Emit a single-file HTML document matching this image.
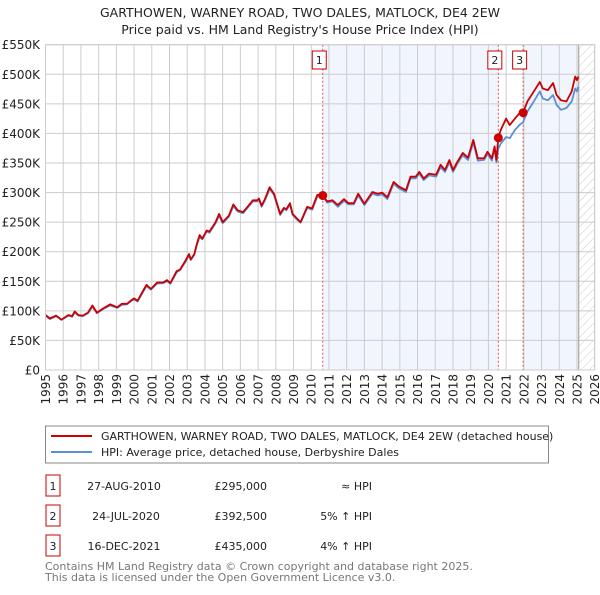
<!DOCTYPE html>
<html><head><meta charset="utf-8"><style>
body{margin:0;background:#fff;font-family:"Liberation Sans","DejaVu Sans",sans-serif;}
svg text{font-family:"DejaVu Sans","Liberation Sans",sans-serif;}
</style></head><body>
<svg id="c" width="600" height="590" xmlns="http://www.w3.org/2000/svg">
<defs><pattern id="hatch" width="6" height="6" patternUnits="userSpaceOnUse" patternTransform="rotate(45)"><line x1="0" y1="0" x2="0" y2="6" stroke="#ccc" stroke-width="1"/></pattern></defs>
<text x="300" y="17" text-anchor="middle" font-size="12.5" fill="#222">GARTHOWEN, WARNEY ROAD, TWO DALES, MATLOCK, DE4 2EW</text>
<text x="300" y="34" text-anchor="middle" font-size="12.5" fill="#222">Price paid vs. HM Land Registry's House Price Index (HPI)</text>
<g id="plot"></g>
<rect x="45.5" y="426" width="503" height="37" fill="#fff" stroke="#888"/>
<line x1="51" y1="436" x2="92" y2="436" stroke="#cc0000" stroke-width="2"/>
<text x="101" y="440" font-size="11" fill="#222">GARTHOWEN, WARNEY ROAD, TWO DALES, MATLOCK, DE4 2EW (detached house)</text>
<line x1="51" y1="452" x2="92" y2="452" stroke="#5b8fd6" stroke-width="2"/>
<text x="101" y="456" font-size="11" fill="#222">HPI: Average price, detached house, Derbyshire Dales</text>
<g font-size="11" fill="#222">
<rect x="46" y="475" width="14" height="21" fill="#fff" stroke="#cc0000"/><text x="53" y="490" text-anchor="middle">1</text>
<text x="124" y="490" text-anchor="middle">27-AUG-2010</text>
<text x="267" y="490" text-anchor="end">£295,000</text>
<text x="372" y="490" text-anchor="end">≈ HPI</text>
<rect x="46" y="505" width="14" height="21" fill="#fff" stroke="#cc0000"/><text x="53" y="520" text-anchor="middle">2</text>
<text x="126" y="520" text-anchor="middle">24-JUL-2020</text>
<text x="267" y="520" text-anchor="end">£392,500</text>
<text x="372" y="520" text-anchor="end">5% ↑ HPI</text>
<rect x="46" y="535" width="14" height="21" fill="#fff" stroke="#cc0000"/><text x="53" y="550" text-anchor="middle">3</text>
<text x="124" y="550" text-anchor="middle">16-DEC-2021</text>
<text x="267" y="550" text-anchor="end">£435,000</text>
<text x="372" y="550" text-anchor="end">4% ↑ HPI</text>
</g>
<text x="45" y="570" font-size="11" fill="#777">Contains HM Land Registry data © Crown copyright and database right 2025.</text>
<text x="45" y="581" font-size="11" fill="#777">This data is licensed under the Open Government Licence v3.0.</text>
</svg>
<script>
const propYears=[1995.0,1995.25,1995.6,1995.9,1996.3,1996.5,1996.65,1996.85,1997.1,1997.4,1997.65,1997.9,1998.25,1998.65,1999.05,1999.3,1999.6,1999.85,2000.0,2000.2,2000.45,2000.7,2000.95,2001.3,2001.65,2001.85,2002.05,2002.4,2002.6,2002.9,2003.1,2003.2,2003.4,2003.55,2003.7,2003.85,2004.1,2004.25,2004.6,2004.8,2005.0,2005.35,2005.6,2005.85,2006.15,2006.4,2006.7,2006.95,2007.05,2007.2,2007.4,2007.65,2007.9,2008.25,2008.45,2008.6,2008.8,2008.95,2009.2,2009.4,2009.77,2010.05,2010.34,2010.65,2010.9,2011.2,2011.5,2011.85,2012.1,2012.4,2012.65,2013.0,2013.45,2013.75,2014.0,2014.3,2014.65,2014.95,2015.35,2015.6,2015.9,2016.1,2016.35,2016.65,2017.05,2017.3,2017.55,2017.8,2018.0,2018.25,2018.55,2018.85,2019.15,2019.4,2019.75,2019.95,2020.2,2020.35,2020.45,2020.56,2020.7,2021.0,2021.2,2021.5,2021.75,2021.96,2022.2,2022.5,2022.9,2023.07,2023.35,2023.65,2023.85,2024.1,2024.4,2024.7,2024.9,2025.0,2025.08];
const propVals=[93,87,92,85,93,91,99,93,92,97,109,97,104,111,106,112,112,118,121,117,131,144,137,148,148,152,147,167,170,185,196,187,196,214,228,222,236,234,250,264,250,261,280,270,267,276,287,287,290,278,290,309,298,264,274,272,282,264,256,250,276,273,296,295,285,287,279,289,282,282,298,281,301,298,300,292,318,310,304,327,327,335,324,332,330,347,338,355,338,352,367,359,389,358,358,369,358,378,355,392.5,406,425,414,425,434,435,454,468,487,476,473,485,465,456,454,471,496,490,496];
const hpiVals=[92,86,91,85,92,90,97,92,91,96,107,96,103,109,105,110,111,117,119,116,129,142,136,146,147,150,146,165,169,183,194,186,195,212,225,221,234,232,248,261,248,259,277,268,265,274,285,285,288,276,288,306,296,262,272,270,280,262,254,249,274,271,293,295,283,285,276,286,280,280,295,279,298,295,297,289,315,307,301,324,324,332,321,329,327,343,335,351,335,349,363,355,385,354,355,365,354,374,351,374,383,394,392,406,414,419,437,451,471,459,456,465,448,440,443,454,476,471,479];
const yTicks=[0,50,100,150,200,250,300,350,400,450,500,550];
const yTickLabels=["£0","£50K","£100K","£150K","£200K","£250K","£300K","£350K","£400K","£450K","£500K","£550K"];
const xTicks=[1995,1996,1997,1998,1999,2000,2001,2002,2003,2004,2005,2006,2007,2008,2009,2010,2011,2012,2013,2014,2015,2016,2017,2018,2019,2020,2021,2022,2023,2024,2025,2026];
const saleYears=[2010.65,2020.56,2021.96];
const saleVals=[295,392.5,435];
const saleLabels=["1","2","3"];
const dataEnd=2025.1;
const L=45.5,R=594.7,T=44.7,B=370;
const xs=y=>L+(y-1995)/31*(R-L);
const ys=v=>B-v/550*(B-T);
const NS="http://www.w3.org/2000/svg";
const g=document.getElementById('plot');
function mk(tag,attrs,parent){const e=document.createElementNS(NS,tag);for(const k in attrs)e.setAttribute(k,attrs[k]);(parent||g).appendChild(e);return e;}
let e;
e=mk('rect',{x:xs(saleYears[0]),y:T,width:xs(saleYears[1])-xs(saleYears[0]),height:B-T,fill:'#f1f5fd'});


e=mk('rect',{x:xs(saleYears[2]),y:T,width:xs(dataEnd)-xs(saleYears[2]),height:B-T,fill:'#f1f5fd'});


e=mk('rect',{x:xs(dataEnd),y:T,width:R-xs(dataEnd),height:B-T,fill:'url(#hatch)'});


yTicks.forEach((t,i)=>{
 e=mk('line',{x1:L,x2:R,y1:ys(t),y2:ys(t),stroke:'#ccc','stroke-width':1});
 
 
 e=mk('text',{x:40,y:ys(t)+4.5,'text-anchor':'end','font-size':12,fill:'#222'});
 e.textContent=yTickLabels[i];
 
 
});
xTicks.forEach(t=>{
 e=mk('line',{x1:xs(t),x2:xs(t),y1:T,y2:B,stroke:'#ccc','stroke-width':1});
 
 
 e=mk('text',{x:0,y:0,'text-anchor':'end','font-size':12,fill:'#222',transform:`translate(${xs(t)+4.5},374) rotate(-90)`});
 e.textContent=t;
 
 
});
e=mk('line',{x1:xs(dataEnd),x2:xs(dataEnd),y1:T,y2:B,stroke:'#999','stroke-width':1});


saleYears.forEach((s,i)=>{
 e=mk('line',{x1:xs(s),x2:xs(s),y1:T,y2:B,stroke:'#e05555','stroke-width':1,'stroke-dasharray':'2,2'});
 
 
});
const pts=(ys_,vs)=>ys_.map((y,i)=>xs(y).toFixed(1)+','+ys(vs[i]).toFixed(1)).join(' ');
e=mk('polyline',{points:pts(propYears,hpiVals),fill:'none',stroke:'#5b8fd6','stroke-width':1.8,'stroke-linejoin':'round'});


e=mk('polyline',{points:pts(propYears,propVals),fill:'none',stroke:'#cc0000','stroke-width':1.8,'stroke-linejoin':'round'});


saleYears.forEach((s,i)=>{
 e=mk('circle',{cx:xs(s),cy:ys(saleVals[i]),r:4.5,fill:'#cc0000'});
 
 
 e=mk('rect',{x:xs(s)-10.5,y:51,width:14,height:18,fill:'#fff',stroke:'#cc0000'});
 
 
 e=mk('text',{x:xs(s)-3.5,y:64,'text-anchor':'middle','font-size':11,fill:'#222'});
 e.textContent=saleLabels[i];
 
 
});
e=mk('rect',{x:L,y:T,width:R-L,height:B-T,fill:'none',stroke:'#ccc'});


</script>
</body></html>
